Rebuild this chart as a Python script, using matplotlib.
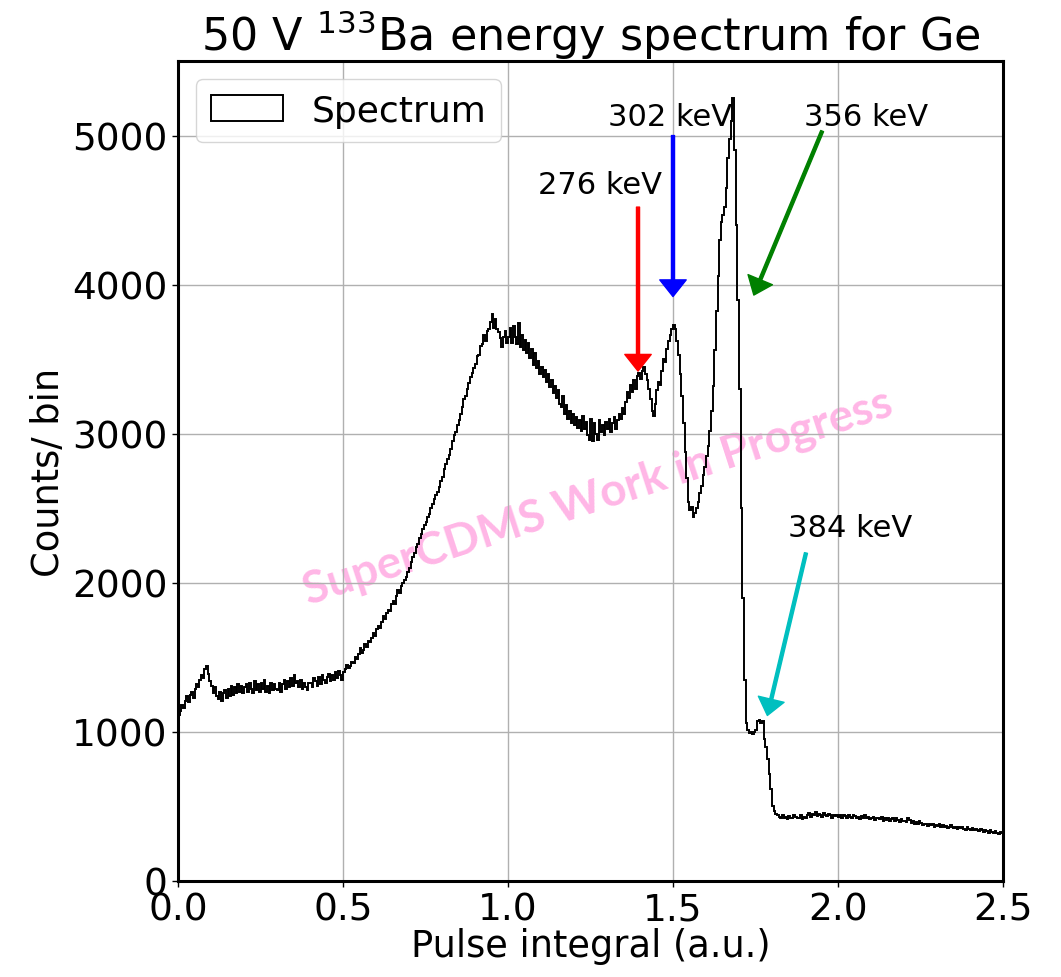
"""50 V Ba-133 energy spectrum for Ge, step histogram with line markers."""

import matplotlib
matplotlib.use("Agg")
import matplotlib.pyplot as plt
import numpy as np

# bin contents, 0.005 a.u. wide bins from 0.0 to 2.5
counts = [
    # 0.0 - 0.1
    1110, 1140, 1180, 1160, 1210, 1240, 1200, 1250, 1270, 1230,
    1290, 1320, 1300, 1350, 1380, 1360, 1420, 1440, 1390, 1340,
    # 0.1 - 0.2
    1310, 1260, 1300, 1240, 1220, 1270, 1210, 1260, 1280, 1230,
    1290, 1240, 1310, 1250, 1300, 1260, 1320, 1270, 1310, 1260,
    # 0.2 - 0.3
    1300, 1320, 1270, 1330, 1290, 1260, 1340, 1280, 1320, 1270,
    1330, 1290, 1350, 1270, 1310, 1260, 1330, 1280, 1320, 1290,
    # 0.3 - 0.4
    1280, 1330, 1270, 1320, 1350, 1290, 1340, 1300, 1360, 1310,
    1380, 1330, 1340, 1300, 1350, 1290, 1330, 1300, 1280, 1330,
    # 0.4 - 0.5
    1330, 1300, 1360, 1340, 1310, 1370, 1320, 1380, 1350, 1330,
    1370, 1390, 1340, 1380, 1350, 1400, 1360, 1410, 1380, 1350,
    # 0.5 - 0.6
    1400, 1420, 1450, 1430, 1440, 1470, 1460, 1500, 1490, 1520,
    1560, 1530, 1550, 1590, 1570, 1610, 1600, 1630, 1660, 1640,
    # 0.6 - 0.7
    1690, 1710, 1700, 1740, 1780, 1760, 1800, 1820, 1810, 1860,
    1880, 1860, 1910, 1950, 1930, 1980, 2000, 2020, 2040, 2070,
    # 0.7 - 0.8
    2100, 2140, 2170, 2200, 2240, 2260, 2300, 2330, 2360, 2390,
    2410, 2440, 2460, 2500, 2530, 2560, 2590, 2610, 2640, 2680,
    # 0.8 - 0.9
    2710, 2760, 2800, 2830, 2860, 2900, 2950, 2990, 3010, 3060,
    3090, 3130, 3180, 3230, 3250, 3300, 3340, 3380, 3410, 3440,
    # 0.9 - 1.0
    3470, 3520, 3530, 3590, 3600, 3660, 3620, 3690, 3700, 3750,
    3800, 3710, 3770, 3700, 3680, 3640, 3580, 3650, 3690, 3610,
    # 1.0 - 1.1
    3650, 3710, 3610, 3720, 3650, 3600, 3740, 3580, 3660, 3560,
    3630, 3540, 3610, 3510, 3570, 3460, 3540, 3440, 3490, 3400,
    # 1.1 - 1.2
    3450, 3380, 3430, 3350, 3400, 3310, 3360, 3270, 3320, 3240,
    3290, 3200, 3180, 3250, 3130, 3190, 3100, 3150, 3070, 3130,
    # 1.2 - 1.3
    3060, 3110, 3040, 3090, 3020, 3120, 3030, 3080, 2990, 2960,
    3100, 2950, 3070, 3000, 2960, 3090, 3010, 3060, 2990, 3080,
    # 1.3 - 1.4
    3030, 3100, 3010, 3070, 3110, 3030, 3090, 3130, 3100, 3170,
    3130, 3210, 3280, 3240, 3330, 3280, 3360, 3300, 3390, 3410,
    # 1.4 - 1.5
    3370, 3420, 3450, 3400, 3360, 3300, 3230, 3150, 3120, 3200,
    3290, 3350, 3330, 3420, 3500, 3480, 3570, 3620, 3660, 3700,
    # 1.5 - 1.6
    3730, 3700, 3620, 3530, 3400, 3250, 3070, 2880, 2700, 2540,
    2490, 2510, 2440, 2470, 2500, 2540, 2600, 2650, 2720, 2780,
    # 1.6 - 1.7
    2850, 2920, 3020, 3150, 3320, 3560, 3820, 4060, 4300, 4420,
    4470, 4520, 4650, 4850, 4980, 5100, 5250, 4900, 4400, 3900,
    # 1.7 - 1.8
    3300, 2500, 1900, 1350, 1060, 1010, 990, 1000, 985, 1000,
    1010, 1070, 1080, 1060, 1075, 950, 900, 820, 720, 620,
    # 1.8 - 1.9
    500, 470, 450, 440, 430, 425, 440, 420, 430, 415,
    435, 425, 420, 440, 430, 420, 425, 440, 415, 430,
    # 1.9 - 2.0
    425, 440, 455, 430, 450, 445, 460, 435, 450, 440,
    430, 455, 445, 435, 450, 440, 425, 445, 435, 440,
    # 2.0 - 2.1
    430, 445, 420, 440, 435, 425, 445, 430, 420, 440,
    435, 425, 430, 415, 435, 425, 440, 420, 430, 415,
    # 2.1 - 2.2
    425, 430, 410, 425, 420, 415, 430, 405, 420, 410,
    425, 400, 415, 420, 405, 425, 410, 395, 415, 400,
    # 2.2 - 2.3
    405, 395, 420, 410, 390, 400, 385, 395, 380, 400,
    390, 375, 385, 380, 370, 385, 375, 380, 365, 375,
    # 2.3 - 2.4
    370, 380, 365, 375, 360, 370, 355, 365, 375, 360,
    355, 365, 350, 360, 355, 365, 350, 345, 360, 350,
    # 2.4 - 2.5
    345, 355, 340, 350, 345, 335, 350, 340, 330, 345,
    335, 325, 340, 330, 320, 335, 325, 315, 330, 320,
]

# line markers: label, label position, arrow tail, arrow tip, colour
line_labels = ["276 keV", "302 keV", "356 keV", "384 keV"]
label_pos = [(1.28, 4670), (1.49, 5130), (2.085, 5130), (2.036, 2370)]
arrow_tail = [(1.394, 4520), (1.50, 5000), (1.952, 5030), (1.903, 2200)]
arrow_tip = [(1.394, 3420), (1.50, 3920), (1.745, 3930), (1.786, 1110)]
arrow_colors = ["red", "blue", "green", "c"]

edges = np.linspace(0.0, 2.5, len(counts) + 1)
centers = 0.5 * (edges[:-1] + edges[1:])

fig = plt.figure(figsize=(10.61, 9.78), dpi=100)
ax = fig.add_axes([0.1678, 0.0982, 0.7775, 0.8384])

ax.hist(centers, bins=edges, weights=counts, histtype="step",
        color="black", linewidth=1.4, label="Spectrum")

for text, pos, tail, tip, col in zip(line_labels, label_pos, arrow_tail,
                                     arrow_tip, arrow_colors):
    ax.text(pos[0], pos[1], text, fontsize=22, ha="center", va="center")
    ax.annotate("", xy=tip, xytext=tail,
                arrowprops=dict(facecolor=col, edgecolor=col, width=2.2,
                                headwidth=19, headlength=12, shrink=0.0))

ax.text(1.272, 2580, "SuperCDMS Work in Progress", color="#ffb6e6",
        fontsize=33, fontweight="bold", family=["Lato", "DejaVu Sans"],
        rotation=18, ha="center", va="center", zorder=0)

ax.set_xlim(0, 2.5)
ax.set_ylim(0, 5500)
ax.set_xticks([0.0, 0.5, 1.0, 1.5, 2.0, 2.5])
ax.set_yticks([0, 1000, 2000, 3000, 4000, 5000])
ax.grid(True, color="#b0b0b0", linewidth=1.0)
ax.tick_params(labelsize=27, length=4, width=1)
for spine in ax.spines.values():
    spine.set_linewidth(2.2)

ax.set_title(r"50 V $^{133}$Ba energy spectrum for Ge", fontsize=32)
ax.set_xlabel("Pulse integral (a.u.)", fontsize=26.5, labelpad=0)
ax.set_ylabel("Counts/ bin", fontsize=26.5)
ax.legend(loc="upper left", fontsize=26, framealpha=0.8)

fig.savefig("out.png", dpi=100)
